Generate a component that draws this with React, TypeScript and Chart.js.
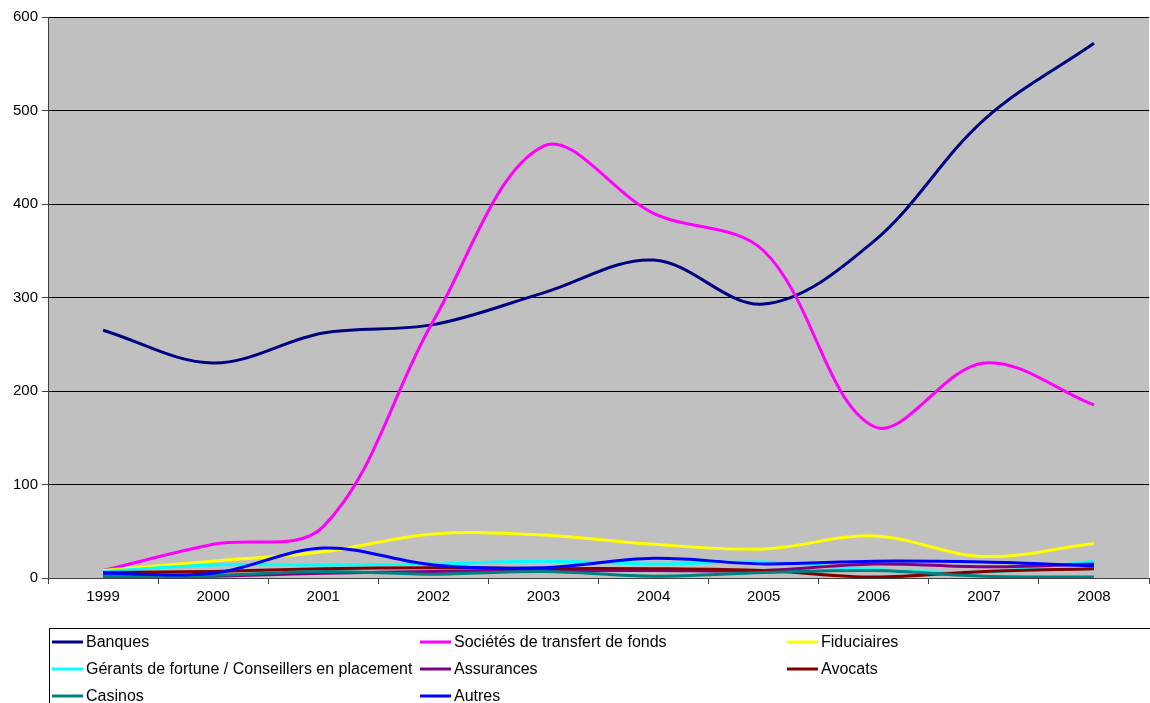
import React, { useEffect, useRef } from "react";
import { Chart, registerables } from "chart.js";

Chart.register(...registerables);

const years = ["1999", "2000", "2001", "2002", "2003", "2004", "2005", "2006", "2007", "2008"];

const banques = [265, 230, 262, 271, 305, 340, 293, 360, 490, 572];
const societes = [8, 36, 55, 275, 462, 390, 350, 162, 230, 185];
const fiduciaires = [8, 18, 28, 47, 46, 36, 31, 45, 23, 37];
const gerants = [7, 14, 14, 15, 18, 15, 17, 9, 6, 18];
const assurances = [2, 2, 5, 7, 8, 8, 8, 15, 12, 15];
const avocats = [6, 7, 10, 11, 10, 10, 8, 1, 7, 10];
const casinos = [2, 3, 7, 4, 7, 2, 6, 8, 2, 1];
const autres = [5, 5, 32, 14, 11, 21, 15, 18, 17, 13];

const seriesNames = [
  "Banques",
  "Sociétés de transfert de fonds",
  "Fiduciaires",
  "Gérants de fortune / Conseillers en placement",
  "Assurances",
  "Avocats",
  "Casinos",
  "Autres",
];
const seriesData = [banques, societes, fiduciaires, gerants, assurances, avocats, casinos, autres];
const seriesColors = ["#000080", "#FF00FF", "#FFFF00", "#00FFFF", "#800080", "#800000", "#008080", "#0000FF"];

const FONT = "'Liberation Sans', Arial, sans-serif";

const bgPlugin = {
  id: "plotBg",
  beforeDraw(chart: any) {
    const { ctx, chartArea } = chart;
    ctx.save();
    ctx.fillStyle = "#ffffff";
    ctx.fillRect(0, 0, chart.width, chart.height);
    ctx.fillStyle = "#C0C0C0";
    ctx.fillRect(chartArea.left, chartArea.top, chartArea.right - chartArea.left, chartArea.bottom - chartArea.top);
    ctx.restore();
  },
};

const legendPlugin = {
  id: "customLegend",
  afterDraw(chart: any) {
    const { ctx } = chart;
    ctx.save();
    ctx.strokeStyle = "#000";
    ctx.lineWidth = 1;
    ctx.strokeRect(49.5, 628.5, 1140, 90);
    const colX = [52, 420, 787];
    const rowY = [642, 669, 696];
    ctx.font = "16px " + FONT;
    ctx.textBaseline = "middle";
    seriesNames.forEach((name, i) => {
      const col = i % 3;
      const row = Math.floor(i / 3);
      const x = colX[col];
      const y = rowY[row];
      ctx.strokeStyle = seriesColors[i];
      ctx.lineWidth = 3;
      ctx.beginPath();
      ctx.moveTo(x, y);
      ctx.lineTo(x + 31, y);
      ctx.stroke();
      ctx.fillStyle = "#000";
      ctx.fillText(name, x + 34, y + 1);
    });
    ctx.restore();
  },
};

export default function App() {
  const ref = useRef<HTMLCanvasElement | null>(null);
  useEffect(() => {
    document.body.style.margin = "0";
    const chart = new Chart(ref.current as HTMLCanvasElement, {
      type: "line",
      data: {
        labels: years,
        datasets: seriesNames.map((name, i) => ({
          label: name,
          data: seriesData[i],
          borderColor: seriesColors[i],
          backgroundColor: seriesColors[i],
          borderWidth: 3,
          pointRadius: 0,
          tension: 0.35,
          fill: false,
          order: seriesNames.length - i,
        })),
      },
      options: {
        animation: false,
        responsive: false,
        maintainAspectRatio: false,
        layout: { padding: { top: 17, right: 1, bottom: 85, left: 0 } },
        plugins: { legend: { display: false }, tooltip: { enabled: false } },
        scales: {
          x: {
            type: "category",
            offset: true,
            grid: { offset: true, drawOnChartArea: false, color: "#404040", tickLength: 6 },
            border: { color: "#404040", width: 1 },
            ticks: { color: "#000", font: { family: FONT, size: 15 }, padding: 4 },
            afterFit(scale: any) {
              scale.height = 40;
            },
          },
          y: {
            min: 0,
            max: 600,
            ticks: { stepSize: 100, color: "#000", font: { family: FONT, size: 15 }, padding: 4 },
            grid: { color: "#000", tickLength: 6, tickColor: "#404040" },
            border: { color: "#404040", width: 1 },
            afterFit(scale: any) {
              scale.width = 48;
            },
          },
        },
      },
      plugins: [bgPlugin, legendPlugin],
    } as any);
    return () => chart.destroy();
  }, []);
  return (
    <div style={{ position: "absolute", left: 0, top: 0, width: 1150, height: 703 }}>
      <canvas ref={ref} width={1150} height={703} style={{ width: 1150, height: 703 }} />
    </div>
  );
}
